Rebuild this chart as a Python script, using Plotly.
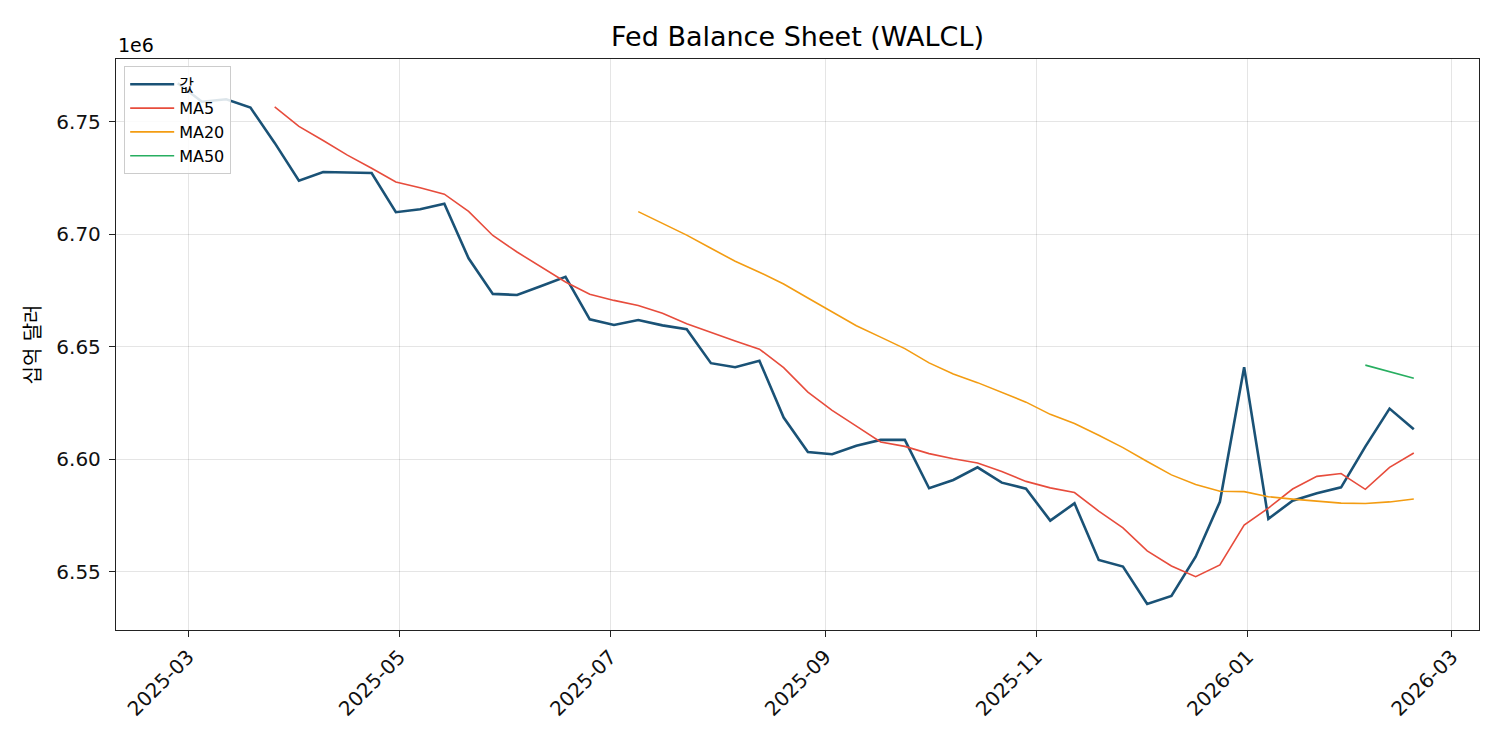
import pandas as pd
import plotly.graph_objects as go

# ─────────────────────────────────────────
# DONNÉES (WALCL hebdo)
# ─────────────────────────────────────────
start_date = "2025-02-26"
n_weeks = 52

values = [
    6.7672, 6.7590, 6.7601, 6.7564, 6.7407, 6.7239, 6.7278, 6.7276, 6.7273, 6.7099,
    6.7112, 6.7137, 6.6894, 6.6736, 6.6731, 6.6771, 6.6812, 6.6623, 6.6598, 6.6620,
    6.6596, 6.6579, 6.6428, 6.6410, 6.6439, 6.6186, 6.6033, 6.6023, 6.6061, 6.6087,
    6.6087, 6.5872, 6.5909, 6.5965, 6.5897, 6.5870, 6.5728, 6.5805, 6.5553, 6.5524,
    6.5358, 6.5393, 6.5568, 6.5812, 6.6410, 6.5736, 6.5817, 6.5850, 6.5876, 6.6057,
    6.6226, 6.6134,
]  # en 1e6

y_ticks = [6.55, 6.60, 6.65, 6.70, 6.75]
x_ticks = ["2025-03-01", "2025-05-01", "2025-07-01", "2025-09-01",
           "2025-11-01", "2026-01-01", "2026-03-01"]
x_tick_labels = ["2025-03", "2025-05", "2025-07", "2025-09", "2025-11", "2026-01", "2026-03"]

# ─────────────────────────────────────────
# MOYENNES MOBILES
# ─────────────────────────────────────────
df = pd.DataFrame({
    "date": pd.date_range(start_date, periods=n_weeks, freq="7D"),
    "value": [v * 1e6 for v in values],
})
df["MA5"] = df["value"].rolling(5).mean()
df["MA20"] = df["value"].rolling(20).mean()
df["MA50"] = df["value"].rolling(50).mean()

FONT = "DejaVu Sans, Noto Sans CJK KR, sans-serif"

fig = go.Figure()
fig.add_trace(go.Scatter(x=df["date"], y=df["value"], name="값", mode="lines",
                         line=dict(color="#1a5276", width=2.6)))
fig.add_trace(go.Scatter(x=df["date"], y=df["MA5"], name="MA5", mode="lines",
                         line=dict(color="#e74c3c", width=1.6)))
fig.add_trace(go.Scatter(x=df["date"], y=df["MA20"], name="MA20", mode="lines",
                         line=dict(color="#f39c12", width=1.6)))
fig.add_trace(go.Scatter(x=df["date"], y=df["MA50"], name="MA50", mode="lines",
                         line=dict(color="#27ae60", width=1.6)))

axis_common = dict(
    showline=True, linecolor="#222222", linewidth=1.3, mirror=True,
    ticks="outside", ticklen=6, tickcolor="#222222", tickwidth=1.3,
    showgrid=True, gridcolor="rgba(0,0,0,0.1)", gridwidth=1,
    zeroline=False, tickfont=dict(size=20, color="#111111", family=FONT),
)

fig.update_layout(
    width=1500, height=750,
    paper_bgcolor="white", plot_bgcolor="white",
    margin=dict(l=108, r=29, t=51, b=128),
    title=dict(text="Fed Balance Sheet (WALCL)", xref="paper", x=0.5, xanchor="center",
               y=0.962, yanchor="middle",
               font=dict(size=27, color="black", family=FONT)),
    font=dict(family=FONT, color="black"),
    xaxis=dict(
        **axis_common,
        range=["2025-02-08 04:00", "2026-03-08 20:00"],
        tickvals=x_ticks, ticktext=x_tick_labels, tickangle=-45,
    ),
    yaxis=dict(
        **axis_common,
        range=[6.5242e6, 6.7780e6],
        tickvals=[t * 1e6 for t in y_ticks],
        ticktext=[f"{t:.2f}" for t in y_ticks],
        ticklabelstandoff=4,
        title=dict(text="십억 달러", font=dict(size=20, family=FONT), standoff=10),
    ),
    legend=dict(
        x=0.006, y=0.987, xanchor="left", yanchor="top",
        bgcolor="rgba(255,255,255,0.85)", bordercolor="#cccccc", borderwidth=1,
        font=dict(size=16, family=FONT), tracegroupgap=0, itemwidth=44,
    ),
    showlegend=True,
)

fig.add_annotation(text="1e6", xref="paper", yref="paper", x=0, y=1,
                   xanchor="left", yanchor="bottom", yshift=1, showarrow=False,
                   font=dict(size=19, color="black", family=FONT))

fig.write_html("out.html")
